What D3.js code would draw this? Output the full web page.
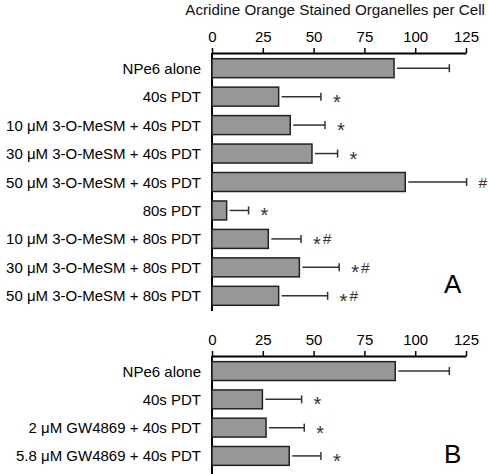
<!DOCTYPE html>
<html><head><meta charset="utf-8">
<script src="https://cdn.jsdelivr.net/npm/d3@7"></script>
<style>body{margin:0;background:#fff}svg{display:block}text{font-family:"Liberation Sans",Arial,sans-serif}</style>
</head><body><div id="chart"></div>
<script>
const titleText = "Acridine Orange Stained Organelles per Cell";
const tickValues = [0, 25, 50, 75, 100, 125];

const catsA = ["NPe6 alone", "40s PDT", "10 \u03bcM 3-O-MeSM + 40s PDT", "30 \u03bcM 3-O-MeSM + 40s PDT",
  "50 \u03bcM 3-O-MeSM + 40s PDT", "80s PDT", "10 \u03bcM 3-O-MeSM + 80s PDT", "30 \u03bcM 3-O-MeSM + 80s PDT",
  "50 \u03bcM 3-O-MeSM + 80s PDT"];
const meanA = [89.6, 32.8, 38.5, 49.2, 95.1, 7.2, 27.7, 43.0, 32.8];
const errA  = [27.2, 20.8, 17.1, 12.6, 30.2, 10.8, 16.1, 19.6, 24.1];
const sigA  = ["", "*", "*", "*", "#", "*", "*#", "*#", "*#"];

const catsB = ["NPe6 alone", "40s PDT", "2 \u03bcM GW4869 + 40s PDT", "5.8 \u03bcM GW4869 + 40s PDT"];
const meanB = [90.2, 24.8, 26.6, 38.0];
const errB  = [26.6, 19.3, 18.8, 15.6];
const sigB  = ["", "*", "*", "*"];

const W = 488, H = 474;
const svg = d3.select("#chart").append("svg").attr("width", W).attr("height", H);

const x = d3.scaleLinear().domain([0, 125]).range([212, 466]);

svg.append("text").attr("x", 485).attr("y", 15).attr("text-anchor", "end").attr("font-size", 15.2).attr("fill", "#111").text(titleText);

function panel(cats, means, errs, sigs, y0, y1, axisBottom, letter, letterY) {
  const y = d3.scaleBand().domain(cats).range([y0, y1]).paddingInner(0.333).paddingOuter(0.2);
  const g = svg.append("g");
  const ax = g.append("g").attr("transform", `translate(0,${y0})`)
    .call(d3.axisTop(x).tickValues(tickValues).tickSize(5).tickSizeOuter(0).tickPadding(6));
  ax.select(".domain").attr("stroke", "#000").attr("stroke-width", 2);
  ax.selectAll(".tick line").attr("stroke", "#000").attr("stroke-width", 1.5);
  ax.selectAll(".tick text").attr("font-size", 15).attr("fill", "#000")
    .attr("font-family", '"Liberation Sans",Arial,sans-serif');
  g.append("line").attr("x1", x(0)).attr("x2", x(0)).attr("y1", y0).attr("y2", axisBottom)
    .attr("stroke", "#000").attr("stroke-width", 2);
  cats.forEach((c, i) => {
    const yc = y(c) + y.bandwidth() / 2;
    g.append("rect").attr("x", x(0)).attr("y", y(c)).attr("width", x(means[i]) - x(0)).attr("height", y.bandwidth())
      .attr("fill", "#979797").attr("stroke", "#222").attr("stroke-width", 1.5);
    const xe = x(means[i] + errs[i]);
    g.append("line").attr("x1", x(means[i]) + 3).attr("x2", xe).attr("y1", yc).attr("y2", yc)
      .attr("stroke", "#333").attr("stroke-width", 1.5);
    g.append("line").attr("x1", xe).attr("x2", xe).attr("y1", yc - 4).attr("y2", yc + 4)
      .attr("stroke", "#333").attr("stroke-width", 1.5);
    g.append("text").attr("x", 201).attr("y", yc + 5.5).attr("text-anchor", "end").attr("font-size", 15)
      .attr("fill", "#000").text(c);
    if (sigs[i]) {
      const t = g.append("text").attr("x", xe + 12).attr("y", yc).attr("fill", "#333");
      sigs[i].split("").forEach((ch, k) => {
        t.append("tspan").attr("font-size", ch === "*" ? 20 : 15.5)
          .attr("dy", k === 0 ? (ch === "*" ? 12 : 5.5) : (ch === "#" ? -6.5 : 6.5))
          .attr("dx", k === 0 ? 0 : 2).text(ch);
      });
    }
  });
  svg.append("text").attr("x", 444).attr("y", letterY).attr("font-size", 26).attr("fill", "#000").text(letter);
}

panel(catsA, meanA, errA, sigA, 53, 311, 311, "A", 293);
panel(catsB, meanB, errB, sigB, 356, 471, 474, "B", 463);
</script></body></html>
